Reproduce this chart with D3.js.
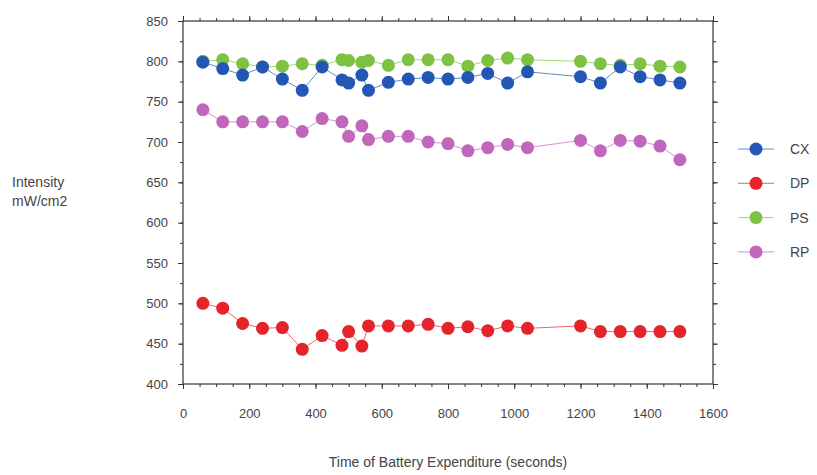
<!DOCTYPE html>
<html>
<head>
<meta charset="utf-8">
<script src="https://cdn.jsdelivr.net/npm/d3@7"></script>
<style>
  body { margin: 0; background: #fff; }
  text { font-family: "Liberation Sans", Arial, sans-serif; fill: #444; }
</style>
</head>
<body>
<div id="chart"></div>
<script>
// time points (seconds)
var times = [60, 120, 180, 240, 300, 360, 420, 480, 500, 540, 560, 620, 680, 740, 800,
  860, 920, 980, 1040, 1200, 1260, 1320, 1380, 1440, 1500];

// intensity values, mW/cm2
var cx = [799, 791, 783, 793, 778, 764, 793, 777, 773, 783, 764, 774, 778, 780, 778,
  780, 785, 773, 787, 781, 773, 793, 781, 777, 773];
var dp = [500, 494, 475, 469, 470, 443, 460, 448, 465, 447, 472, 472, 472, 474, 469,
  471, 466, 472, 469, 472, 465, 465, 465, 465, 465];
var ps = [800, 802, 797, 793, 794, 797, 795, 802, 801, 799, 801, 795, 802, 802, 802,
  794, 801, 804, 802, 800, 797, 795, 797, 794, 793];
var rp = [740, 725, 725, 725, 725, 713, 729, 725, 707, 720, 703, 707, 707, 700, 698,
  689, 693, 697, 693, 702, 689, 702, 701, 695, 678];

var seriesNames = ['CX', 'DP', 'PS', 'RP'];
var seriesColors = ['#2457b5', '#e4232a', '#7dc242', '#c066bb'];
var xTicks = [0, 200, 400, 600, 800, 1000, 1200, 1400, 1600];
var yTicks = [400, 450, 500, 550, 600, 650, 700, 750, 800, 850];

var width = 817, height = 475;
var plot = {left: 183, right: 713, top: 21, bottom: 384};

var svg = d3.select('#chart').append('svg')
  .attr('width', width).attr('height', height);

var x = d3.scaleLinear().domain([0, 1600]).range([plot.left, plot.right]);
var y = d3.scaleLinear().domain([400, 850]).range([plot.bottom, plot.top]);

// minor ticks every 50 on x, every 25 on y
var xMinor = d3.range(0, 1601, 50);
var yMinor = d3.range(400, 851, 25);

function styleAxis(g) {
  g.select('.domain').remove();
  g.selectAll('line').attr('stroke', '#333');
  g.selectAll('text').attr('font-size', 13).style('fill', '#444');
}

// bottom
svg.append('g').attr('transform', 'translate(0,' + plot.bottom + ')')
  .call(d3.axisBottom(x).tickValues(xMinor).tickSize(3).tickFormat(''))
  .call(styleAxis);
svg.append('g').attr('transform', 'translate(0,' + plot.bottom + ')')
  .call(d3.axisBottom(x).tickValues(xTicks).tickSize(5).tickPadding(20).tickFormat(d3.format('d')))
  .call(styleAxis);
// top
svg.append('g').attr('transform', 'translate(0,' + plot.top + ')')
  .call(d3.axisTop(x).tickValues(xMinor).tickSize(3).tickFormat(''))
  .call(styleAxis);
svg.append('g').attr('transform', 'translate(0,' + plot.top + ')')
  .call(d3.axisTop(x).tickValues(xTicks).tickSize(5).tickFormat(''))
  .call(styleAxis);
// left
svg.append('g').attr('transform', 'translate(' + plot.left + ',0)')
  .call(d3.axisLeft(y).tickValues(yMinor).tickSize(3).tickFormat(''))
  .call(styleAxis);
svg.append('g').attr('transform', 'translate(' + plot.left + ',0)')
  .call(d3.axisLeft(y).tickValues(yTicks).tickSize(5).tickPadding(10).tickFormat(d3.format('d')))
  .call(styleAxis);
// right
svg.append('g').attr('transform', 'translate(' + plot.right + ',0)')
  .call(d3.axisRight(y).tickValues(yMinor).tickSize(3).tickFormat(''))
  .call(styleAxis);
svg.append('g').attr('transform', 'translate(' + plot.right + ',0)')
  .call(d3.axisRight(y).tickValues(yTicks).tickSize(5).tickFormat(''))
  .call(styleAxis);

// frame
svg.append('rect')
  .attr('x', plot.left).attr('y', plot.top)
  .attr('width', plot.right - plot.left).attr('height', plot.bottom - plot.top)
  .attr('fill', 'none').attr('stroke', '#333').attr('stroke-width', 1.2);

// data series; green drawn first so blue sits on top
var series = [
  {name: 'PS', values: ps, color: seriesColors[2]},
  {name: 'RP', values: rp, color: seriesColors[3]},
  {name: 'DP', values: dp, color: seriesColors[1]},
  {name: 'CX', values: cx, color: seriesColors[0]}
];

var line = d3.line()
  .x(function(d, i) { return x(times[i]); })
  .y(function(d) { return y(d); });

series.forEach(function(s) {
  var g = svg.append('g');
  g.append('path')
    .attr('d', line(s.values))
    .attr('fill', 'none')
    .attr('stroke', s.color)
    .attr('stroke-opacity', 0.7)
    .attr('stroke-width', 1);
  g.selectAll('circle')
    .data(s.values)
    .enter()
    .append('circle')
    .attr('cx', function(d, i) { return x(times[i]); })
    .attr('cy', function(d) { return y(d); })
    .attr('r', 6.5)
    .attr('fill', s.color);
});

// legend
var legend = svg.append('g');
seriesNames.forEach(function(name, i) {
  var ly = 149 + i * 34.3;
  legend.append('line')
    .attr('x1', 738).attr('x2', 774)
    .attr('y1', ly).attr('y2', ly)
    .attr('stroke', seriesColors[i]).attr('stroke-opacity', 0.7).attr('stroke-width', 1);
  legend.append('circle')
    .attr('cx', 756).attr('cy', ly).attr('r', 6.5)
    .attr('fill', seriesColors[i]);
  legend.append('text')
    .attr('x', 790).attr('y', ly + 5)
    .attr('font-size', 14)
    .text(name);
});

// axis titles
svg.append('text')
  .attr('x', (plot.left + plot.right) / 2).attr('y', 467)
  .attr('text-anchor', 'middle').attr('font-size', 14)
  .text('Time of Battery Expenditure (seconds)');

svg.append('text')
  .attr('x', 12).attr('y', 187).attr('font-size', 14)
  .text('Intensity');
svg.append('text')
  .attr('x', 12).attr('y', 206).attr('font-size', 14)
  .text('mW/cm2');
</script>
</body>
</html>
